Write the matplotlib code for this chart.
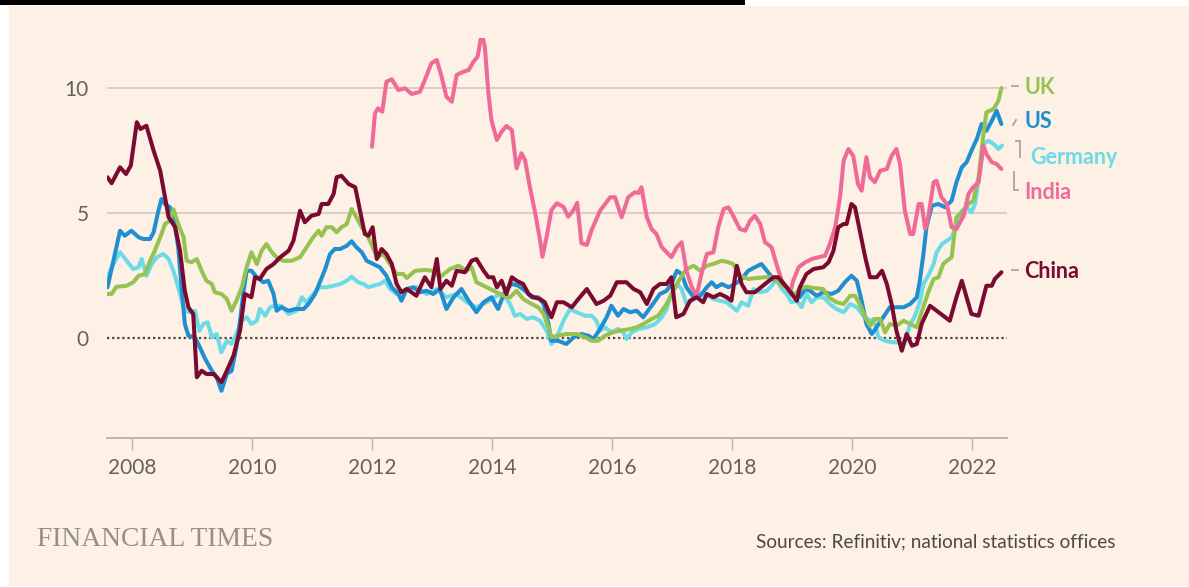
import matplotlib.pyplot as plt
from matplotlib.lines import Line2D
from matplotlib.patches import Rectangle

# series: decimal year, annual inflation %
uk_t = [2007.59, 2007.66, 2007.74, 2007.91, 2008.02, 2008.11, 2008.22, 2008.30, 2008.38, 2008.47, 2008.55, 2008.63, 2008.69, 2008.77, 2008.86, 2008.91, 2008.99, 2009.08, 2009.16, 2009.24, 2009.33, 2009.38, 2009.49, 2009.58, 2009.66, 2009.74, 2009.83, 2009.91, 2009.99, 2010.08, 2010.16, 2010.24, 2010.33, 2010.41, 2010.52, 2010.66, 2010.80, 2010.91, 2011.02, 2011.11, 2011.16, 2011.24, 2011.33, 2011.41, 2011.49, 2011.58, 2011.66, 2011.74, 2011.83, 2011.91, 2011.99, 2012.08, 2012.19, 2012.30, 2012.41, 2012.52, 2012.58, 2012.72, 2012.88, 2013.02, 2013.13, 2013.30, 2013.44, 2013.58, 2013.66, 2013.74, 2013.91, 2014.08, 2014.19, 2014.30, 2014.41, 2014.52, 2014.66, 2014.77, 2014.86, 2014.94, 2014.99, 2015.10, 2015.24, 2015.41, 2015.55, 2015.66, 2015.77, 2015.88, 2016.02, 2016.13, 2016.30, 2016.41, 2016.52, 2016.66, 2016.77, 2016.91, 2017.02, 2017.13, 2017.24, 2017.36, 2017.47, 2017.58, 2017.72, 2017.83, 2017.94, 2018.02, 2018.13, 2018.27, 2018.41, 2018.55, 2018.69, 2018.80, 2018.91, 2019.02, 2019.13, 2019.24, 2019.36, 2019.52, 2019.61, 2019.74, 2019.86, 2019.97, 2020.05, 2020.13, 2020.22, 2020.30, 2020.38, 2020.47, 2020.55, 2020.63, 2020.74, 2020.86, 2020.97, 2021.08, 2021.16, 2021.27, 2021.36, 2021.44, 2021.52, 2021.58, 2021.66, 2021.74, 2021.86, 2021.94, 2022.02, 2022.11, 2022.19, 2022.24, 2022.36, 2022.44, 2022.49]
uk_v = [1.76, 1.76, 2.05, 2.09, 2.23, 2.49, 2.56, 3.09, 3.49, 4.03, 4.56, 4.69, 5.15, 4.56, 4.03, 3.09, 3.03, 3.16, 2.69, 2.29, 2.16, 1.83, 1.76, 1.56, 1.09, 1.49, 2.03, 2.83, 3.43, 2.96, 3.49, 3.76, 3.43, 3.23, 3.09, 3.09, 3.23, 3.63, 4.03, 4.29, 4.09, 4.43, 4.43, 4.23, 4.43, 4.56, 5.16, 4.83, 4.43, 4.16, 3.76, 3.23, 3.36, 2.96, 2.56, 2.56, 2.40, 2.69, 2.72, 2.69, 2.43, 2.76, 2.89, 2.69, 2.83, 2.23, 2.03, 1.83, 1.69, 1.63, 1.89, 1.56, 1.36, 1.23, 0.96, 0.43, 0.03, 0.09, 0.16, 0.16, 0.03, -0.11, -0.11, 0.09, 0.23, 0.29, 0.36, 0.43, 0.56, 0.76, 0.89, 1.36, 1.89, 2.36, 2.76, 2.89, 2.69, 2.89, 2.99, 3.09, 3.03, 2.96, 2.49, 2.36, 2.40, 2.43, 2.43, 2.16, 2.03, 1.69, 1.96, 2.05, 2.00, 1.96, 1.63, 1.43, 1.36, 1.69, 1.69, 1.36, 0.83, 0.49, 0.76, 0.76, 0.23, 0.56, 0.49, 0.69, 0.56, 0.43, 1.03, 1.83, 2.36, 2.43, 2.96, 3.09, 3.23, 4.83, 5.09, 5.36, 5.49, 6.43, 8.16, 9.03, 9.16, 9.49, 10.0]

us_t = [2007.59, 2007.69, 2007.80, 2007.88, 2007.99, 2008.11, 2008.19, 2008.30, 2008.36, 2008.44, 2008.49, 2008.55, 2008.63, 2008.70, 2008.77, 2008.83, 2008.88, 2008.94, 2009.05, 2009.13, 2009.22, 2009.33, 2009.41, 2009.49, 2009.58, 2009.66, 2009.74, 2009.80, 2009.86, 2009.91, 2009.99, 2010.08, 2010.19, 2010.27, 2010.36, 2010.41, 2010.49, 2010.61, 2010.72, 2010.86, 2010.94, 2011.05, 2011.13, 2011.22, 2011.30, 2011.38, 2011.47, 2011.58, 2011.66, 2011.74, 2011.83, 2011.91, 2012.02, 2012.13, 2012.24, 2012.33, 2012.44, 2012.49, 2012.58, 2012.69, 2012.80, 2012.91, 2013.02, 2013.13, 2013.24, 2013.36, 2013.49, 2013.61, 2013.74, 2013.86, 2013.99, 2014.10, 2014.22, 2014.33, 2014.44, 2014.55, 2014.66, 2014.77, 2014.86, 2014.94, 2014.99, 2015.10, 2015.24, 2015.36, 2015.49, 2015.61, 2015.69, 2015.80, 2015.91, 2015.99, 2016.10, 2016.19, 2016.30, 2016.41, 2016.52, 2016.66, 2016.80, 2016.91, 2016.99, 2017.08, 2017.16, 2017.24, 2017.36, 2017.47, 2017.58, 2017.66, 2017.74, 2017.83, 2017.94, 2018.05, 2018.16, 2018.27, 2018.38, 2018.49, 2018.58, 2018.69, 2018.80, 2018.91, 2019.02, 2019.13, 2019.22, 2019.30, 2019.41, 2019.52, 2019.66, 2019.77, 2019.88, 2019.99, 2020.08, 2020.16, 2020.24, 2020.33, 2020.41, 2020.52, 2020.63, 2020.74, 2020.86, 2020.97, 2021.08, 2021.13, 2021.19, 2021.24, 2021.33, 2021.44, 2021.55, 2021.66, 2021.74, 2021.83, 2021.91, 2021.99, 2022.08, 2022.16, 2022.24, 2022.33, 2022.41, 2022.49]
us_v = [2.03, 3.09, 4.29, 4.09, 4.29, 4.03, 3.96, 3.96, 4.23, 5.09, 5.56, 5.36, 5.23, 4.69, 3.63, 1.89, 0.56, 0.09, 0.03, -0.37, -0.84, -1.31, -1.57, -2.11, -1.44, -1.31, -0.37, 0.69, 1.89, 2.69, 2.69, 2.43, 2.23, 2.29, 1.76, 1.09, 1.23, 1.09, 1.16, 1.16, 1.36, 1.76, 2.23, 2.76, 3.36, 3.56, 3.56, 3.69, 3.87, 3.63, 3.43, 3.09, 2.96, 2.83, 2.49, 2.03, 1.76, 1.49, 1.96, 2.03, 1.83, 1.89, 1.76, 1.96, 1.16, 1.63, 1.96, 1.49, 1.03, 1.43, 1.63, 1.16, 1.89, 2.16, 2.09, 1.89, 1.63, 1.63, 1.36, 0.56, -0.11, -0.11, -0.24, 0.03, 0.16, 0.09, -0.04, 0.36, 0.83, 1.29, 0.89, 1.16, 1.03, 1.09, 0.83, 1.29, 1.76, 1.89, 2.16, 2.69, 2.56, 2.03, 1.63, 1.69, 2.03, 2.23, 2.03, 2.16, 2.03, 2.16, 2.36, 2.69, 2.83, 2.96, 2.69, 2.36, 2.23, 2.03, 1.76, 1.63, 1.96, 1.89, 1.69, 1.83, 1.76, 1.89, 2.23, 2.49, 2.29, 1.49, 0.56, 0.16, 0.43, 0.83, 1.23, 1.23, 1.23, 1.36, 1.63, 2.29, 3.36, 4.43, 5.29, 5.36, 5.23, 5.49, 6.23, 6.83, 7.03, 7.49, 7.96, 8.56, 8.29, 8.69, 9.09, 8.56]

de_t = [2007.59, 2007.69, 2007.80, 2007.91, 2008.02, 2008.11, 2008.16, 2008.24, 2008.33, 2008.41, 2008.52, 2008.61, 2008.69, 2008.77, 2008.83, 2008.88, 2008.97, 2009.05, 2009.12, 2009.19, 2009.26, 2009.33, 2009.41, 2009.49, 2009.58, 2009.66, 2009.74, 2009.83, 2009.91, 2009.99, 2010.08, 2010.13, 2010.22, 2010.30, 2010.38, 2010.49, 2010.61, 2010.74, 2010.83, 2010.91, 2011.02, 2011.13, 2011.24, 2011.36, 2011.47, 2011.58, 2011.66, 2011.77, 2011.86, 2011.94, 2012.02, 2012.13, 2012.22, 2012.30, 2012.41, 2012.52, 2012.58, 2012.74, 2012.91, 2013.08, 2013.24, 2013.41, 2013.58, 2013.74, 2013.91, 2014.08, 2014.19, 2014.30, 2014.38, 2014.47, 2014.58, 2014.69, 2014.80, 2014.91, 2014.99, 2015.08, 2015.19, 2015.30, 2015.41, 2015.55, 2015.66, 2015.74, 2015.80, 2015.88, 2015.99, 2016.10, 2016.19, 2016.24, 2016.33, 2016.44, 2016.58, 2016.72, 2016.83, 2016.91, 2016.99, 2017.08, 2017.16, 2017.24, 2017.33, 2017.44, 2017.55, 2017.69, 2017.80, 2017.91, 2018.08, 2018.16, 2018.27, 2018.36, 2018.47, 2018.58, 2018.66, 2018.74, 2018.83, 2018.91, 2018.99, 2019.08, 2019.16, 2019.24, 2019.33, 2019.41, 2019.52, 2019.63, 2019.74, 2019.86, 2019.97, 2020.08, 2020.19, 2020.30, 2020.36, 2020.44, 2020.55, 2020.66, 2020.77, 2020.88, 2020.97, 2021.05, 2021.13, 2021.19, 2021.27, 2021.36, 2021.41, 2021.50, 2021.58, 2021.66, 2021.74, 2021.83, 2021.91, 2021.99, 2022.05, 2022.13, 2022.19, 2022.27, 2022.36, 2022.44, 2022.50]
de_v = [2.43, 2.96, 3.43, 3.09, 2.76, 2.83, 3.16, 2.49, 2.96, 3.23, 3.36, 3.16, 2.69, 2.03, 1.49, 1.09, 1.03, 1.09, 0.29, 0.56, 0.63, 0.03, 0.16, -0.57, -0.11, -0.24, 0.16, 0.69, 0.83, 0.56, 0.69, 1.16, 0.89, 1.23, 1.29, 1.29, 0.96, 1.09, 1.63, 1.43, 1.76, 2.03, 2.03, 2.09, 2.16, 2.29, 2.45, 2.23, 2.16, 2.03, 2.09, 2.16, 2.29, 1.96, 1.76, 1.89, 1.96, 2.03, 1.76, 1.96, 1.63, 1.76, 1.43, 1.23, 1.43, 1.69, 1.76, 1.36, 0.89, 0.96, 0.76, 0.83, 0.69, 0.29, -0.24, 0.03, 0.69, 1.16, 1.03, 0.89, 0.89, 0.69, 0.29, 0.43, 0.23, 0.36, 0.23, -0.04, 0.23, 0.36, 0.43, 0.56, 0.83, 1.16, 1.76, 2.16, 1.96, 1.36, 1.49, 1.69, 1.76, 1.56, 1.49, 1.43, 1.09, 1.43, 1.29, 1.96, 1.83, 1.89, 2.09, 2.36, 1.96, 1.76, 1.43, 1.49, 1.23, 1.76, 1.43, 1.63, 1.63, 1.36, 1.16, 1.03, 1.36, 1.23, 0.89, 0.69, 0.76, 0.03, -0.11, -0.17, -0.17, -0.17, 0.56, 0.89, 1.43, 2.16, 2.49, 2.96, 3.43, 3.76, 3.89, 4.03, 4.49, 5.09, 5.23, 5.03, 5.36, 6.69, 7.76, 7.89, 7.76, 7.56, 7.70]

in_t = [2012.00, 2012.05, 2012.10, 2012.17, 2012.24, 2012.33, 2012.44, 2012.55, 2012.66, 2012.80, 2012.88, 2012.99, 2013.08, 2013.16, 2013.24, 2013.33, 2013.41, 2013.52, 2013.61, 2013.69, 2013.76, 2013.83, 2013.88, 2013.94, 2013.99, 2014.08, 2014.16, 2014.24, 2014.33, 2014.41, 2014.49, 2014.55, 2014.63, 2014.72, 2014.80, 2014.84, 2014.91, 2014.99, 2015.08, 2015.19, 2015.27, 2015.36, 2015.42, 2015.49, 2015.58, 2015.66, 2015.80, 2015.97, 2016.05, 2016.16, 2016.27, 2016.38, 2016.44, 2016.49, 2016.58, 2016.66, 2016.74, 2016.83, 2016.91, 2016.99, 2017.08, 2017.16, 2017.24, 2017.33, 2017.41, 2017.49, 2017.58, 2017.69, 2017.77, 2017.86, 2017.94, 2018.02, 2018.13, 2018.22, 2018.30, 2018.38, 2018.47, 2018.55, 2018.66, 2018.74, 2018.83, 2018.91, 2018.97, 2019.02, 2019.11, 2019.22, 2019.33, 2019.44, 2019.55, 2019.63, 2019.72, 2019.80, 2019.86, 2019.94, 2020.02, 2020.10, 2020.16, 2020.24, 2020.30, 2020.38, 2020.47, 2020.58, 2020.66, 2020.74, 2020.80, 2020.88, 2020.97, 2021.02, 2021.11, 2021.16, 2021.22, 2021.27, 2021.36, 2021.41, 2021.49, 2021.58, 2021.66, 2021.74, 2021.86, 2021.94, 2022.02, 2022.11, 2022.19, 2022.24, 2022.33, 2022.41, 2022.49]
in_v = [7.65, 8.99, 9.19, 9.05, 10.25, 10.35, 9.92, 9.99, 9.76, 9.85, 10.32, 10.99, 11.12, 10.45, 9.65, 9.45, 10.52, 10.65, 10.72, 11.05, 11.25, 12.19, 11.65, 9.79, 8.72, 7.92, 8.25, 8.48, 8.32, 6.79, 7.39, 7.12, 6.05, 4.99, 3.92, 3.25, 4.05, 5.12, 5.39, 5.25, 4.85, 5.12, 5.41, 3.79, 3.72, 4.32, 5.09, 5.63, 5.63, 4.83, 5.63, 5.83, 5.80, 6.03, 4.83, 4.36, 4.16, 3.63, 3.43, 3.23, 3.63, 3.83, 2.69, 2.03, 1.69, 2.56, 3.36, 3.43, 4.43, 5.16, 5.23, 4.89, 4.36, 4.29, 4.69, 4.89, 4.56, 3.83, 3.63, 2.96, 2.29, 2.03, 1.83, 2.29, 2.83, 3.03, 3.16, 3.23, 3.29, 3.76, 4.43, 5.63, 7.09, 7.56, 7.29, 6.16, 5.89, 7.23, 6.43, 6.23, 6.69, 6.76, 7.29, 7.56, 6.96, 5.09, 4.16, 4.16, 5.36, 5.36, 4.36, 4.83, 6.23, 6.29, 5.63, 5.36, 4.43, 4.36, 4.89, 5.76, 6.03, 6.23, 7.69, 7.36, 7.03, 6.96, 6.76]

cn_t = [2007.59, 2007.66, 2007.80, 2007.90, 2007.98, 2008.08, 2008.14, 2008.24, 2008.36, 2008.47, 2008.55, 2008.61, 2008.72, 2008.80, 2008.88, 2008.94, 2009.02, 2009.08, 2009.16, 2009.24, 2009.36, 2009.49, 2009.58, 2009.69, 2009.80, 2009.88, 2009.99, 2010.05, 2010.13, 2010.24, 2010.36, 2010.47, 2010.61, 2010.69, 2010.80, 2010.88, 2010.99, 2011.11, 2011.16, 2011.27, 2011.36, 2011.41, 2011.49, 2011.61, 2011.72, 2011.80, 2011.88, 2011.94, 2012.01, 2012.08, 2012.16, 2012.24, 2012.33, 2012.41, 2012.49, 2012.58, 2012.74, 2012.88, 2012.99, 2013.08, 2013.14, 2013.24, 2013.33, 2013.41, 2013.55, 2013.66, 2013.74, 2013.86, 2013.94, 2014.02, 2014.08, 2014.16, 2014.24, 2014.33, 2014.41, 2014.52, 2014.61, 2014.69, 2014.80, 2014.88, 2014.94, 2014.99, 2015.08, 2015.19, 2015.33, 2015.44, 2015.58, 2015.74, 2015.86, 2015.97, 2016.08, 2016.24, 2016.36, 2016.47, 2016.58, 2016.69, 2016.80, 2016.91, 2016.99, 2017.07, 2017.19, 2017.30, 2017.41, 2017.52, 2017.58, 2017.69, 2017.80, 2017.91, 2017.99, 2018.08, 2018.16, 2018.24, 2018.38, 2018.55, 2018.69, 2018.77, 2018.91, 2019.08, 2019.13, 2019.24, 2019.36, 2019.52, 2019.61, 2019.69, 2019.77, 2019.86, 2019.91, 2019.99, 2020.05, 2020.13, 2020.22, 2020.30, 2020.41, 2020.50, 2020.58, 2020.66, 2020.74, 2020.83, 2020.91, 2021.00, 2021.08, 2021.16, 2021.30, 2021.41, 2021.52, 2021.63, 2021.74, 2021.83, 2021.91, 2021.99, 2022.11, 2022.19, 2022.24, 2022.33, 2022.38, 2022.49]
cn_v = [6.43, 6.19, 6.83, 6.56, 6.90, 8.63, 8.36, 8.49, 7.49, 6.69, 5.63, 4.83, 4.43, 3.49, 1.89, 1.23, 0.96, -1.57, -1.31, -1.44, -1.44, -1.77, -1.31, -0.71, 0.29, 1.76, 1.63, 2.43, 2.36, 2.76, 2.96, 3.23, 3.49, 3.89, 5.09, 4.63, 4.89, 4.96, 5.36, 5.36, 5.76, 6.43, 6.49, 6.16, 6.03, 5.09, 4.16, 4.09, 4.43, 3.16, 3.56, 3.36, 2.96, 2.16, 1.83, 1.96, 1.69, 2.43, 2.03, 3.16, 1.96, 2.29, 2.09, 2.69, 2.63, 3.09, 3.16, 2.69, 2.43, 2.43, 2.03, 2.29, 1.76, 2.43, 2.29, 2.16, 1.76, 1.63, 1.56, 1.43, 1.09, 0.83, 1.43, 1.43, 1.23, 1.56, 1.96, 1.36, 1.49, 1.69, 2.23, 2.23, 1.96, 1.83, 1.36, 1.96, 2.16, 2.16, 2.43, 0.83, 0.96, 1.49, 1.63, 1.43, 1.76, 1.63, 1.76, 1.63, 1.49, 2.89, 2.16, 1.83, 1.83, 2.16, 2.43, 2.43, 2.03, 1.49, 2.03, 2.56, 2.76, 2.83, 3.03, 3.49, 4.43, 4.56, 4.56, 5.36, 5.23, 4.29, 3.23, 2.43, 2.43, 2.69, 2.16, 1.36, 0.29, -0.51, 0.16, -0.31, -0.24, 0.56, 1.29, 1.09, 0.89, 0.69, 1.63, 2.29, 1.63, 0.96, 0.89, 1.63, 2.09, 2.09, 2.36, 2.63]

labels = ['UK', 'US', 'Germany', 'India', 'China']
colors = {'UK': '#95c250', 'US': '#1f8fd2', 'Germany': '#6cdbe6',
          'India': '#ef6a96', 'China': '#7a0a2f'}
year_ticks = [2008, 2010, 2012, 2014, 2016, 2018, 2020, 2022]

W, H = 1189, 587
BG = '#fdf0e5'
GREY = '#66605c'
font = 'Lato'

fig = plt.figure(figsize=(W / 100, H / 100), dpi=100, facecolor='white')

def px(x, y):
    return x / W, 1 - y / H

# cream panel and clipped title underline at top
fig.add_artist(Rectangle(px(9, 586), (W - 9) / W, 580 / H, transform=fig.transFigure,
                         facecolor=BG, edgecolor='none', zorder=0))
fig.add_artist(Rectangle(px(0, 5), 745 / W, 5 / H, transform=fig.transFigure,
                         facecolor='black', edgecolor='none', zorder=1))

ax = fig.add_axes([107 / W, 149 / H, 900 / W, 400 / H])
ax.set_facecolor('none')
ax.set_xlim(2007.583, 2022.583)
ax.set_ylim(-4, 12)

for g in [5, 10]:
    ax.axhline(g, color='#d8cfc6', lw=1.4, zorder=1)
ax.axhline(0, color='#4a4540', lw=1.6, ls=(0, (1, 1.3)), zorder=1)

series = {
    'Germany': (de_t, de_v),
    'US': (us_t, us_v),
    'UK': (uk_t, uk_v),
    'India': (in_t, in_v),
    'China': (cn_t, cn_v),
}
for z, (name, (t, v)) in enumerate(series.items()):
    ax.plot(t, v, color=colors[name], lw=2.9, solid_joinstyle='round',
            solid_capstyle='round', zorder=3 + z)

for s in ['top', 'right', 'left']:
    ax.spines[s].set_visible(False)
ax.spines['bottom'].set_color('#bdb5ad')
ax.spines['bottom'].set_linewidth(1.4)

ax.set_xticks(year_ticks)
ax.set_xticklabels([str(y) for y in year_ticks])
ax.tick_params(axis='x', length=8.5, width=1, color='#bdb5ad', pad=6,
               labelsize=15, labelcolor=GREY)
ax.set_yticks([0, 5, 10])
ax.set_yticklabels(['0', '5', '10'])
ax.tick_params(axis='y', length=0, pad=13, labelsize=15, labelcolor=GREY)
for lab in ax.get_xticklabels() + ax.get_yticklabels():
    lab.set_fontfamily(font)

# right hand labels with small connectors
label_pos = {'UK': (1024, 87), 'US': (1024, 122), 'Germany': (1030, 157),
             'India': (1024, 193), 'China': (1024, 271)}
for name in labels:
    x, y = label_pos[name]
    fig.text(*px(x, y), name, color=colors[name], fontsize=15.5, fontweight='bold',
             family=font, ha='left', va='center')

conn = '#aaa39c'
segs = [
    [(1012, 86), (1018, 86)],
    [(1013, 125), (1016, 120)],
    [(1016, 141), (1020, 141), (1020, 157)],
    [(1014, 172), (1014, 190), (1018, 190)],
    [(1012, 270), (1018, 270)],
]
for seg in segs:
    xs = [px(a, b)[0] for a, b in seg]
    ys = [px(a, b)[1] for a, b in seg]
    fig.add_artist(Line2D(xs, ys, transform=fig.transFigure, color=conn, lw=1.3))

fig.text(*px(37, 540), 'FINANCIAL TIMES', family='Liberation Serif', fontsize=19.8,
         color='#978f87', ha='left', va='center')
fig.text(*px(756, 542), 'Sources: Refinitiv; national statistics offices', family=font,
         fontsize=13.7, color='#4d4845', ha='left', va='center')

fig.savefig('out.png', dpi=100, facecolor='white')
